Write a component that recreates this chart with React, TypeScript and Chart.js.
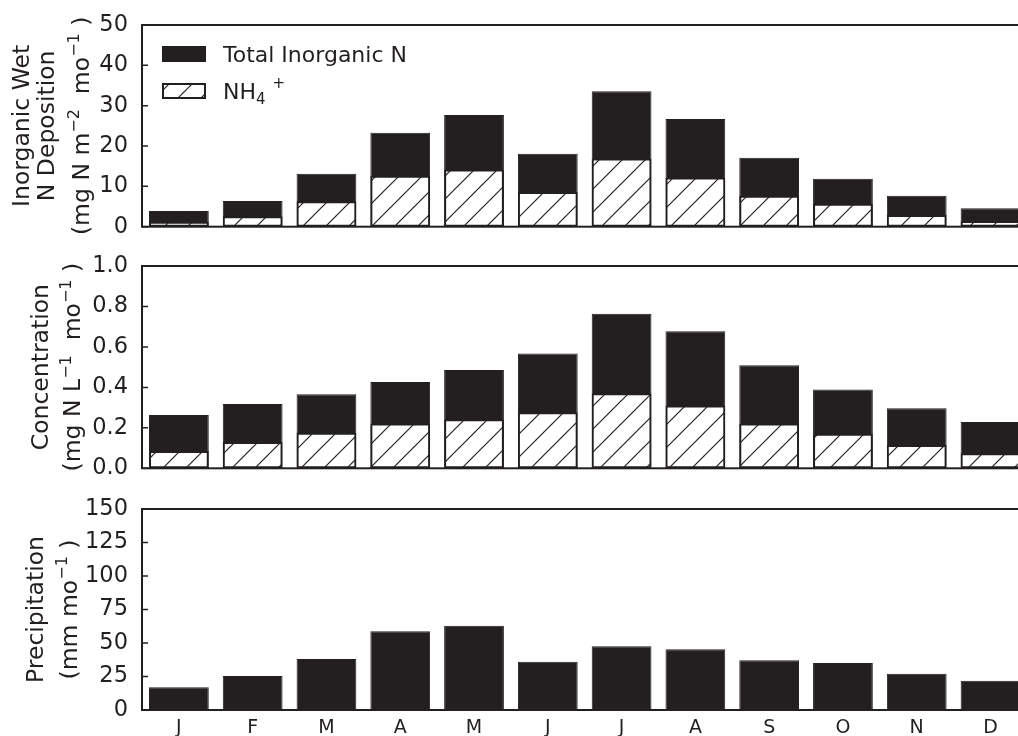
import React, { useEffect, useRef } from 'react';
import { Chart, registerables } from 'chart.js';

Chart.register(...registerables);

const FONT = "'DejaVu Sans', 'Liberation Sans', sans-serif";
const INK = '#231f20';

// ---------- data ----------
const months = ['J', 'F', 'M', 'A', 'M', 'J', 'J', 'A', 'S', 'O', 'N', 'D'];
const totalDeposition = [3.9, 6.4, 13.1, 23.3, 27.7, 18.1, 33.6, 26.7, 17.1, 11.9, 7.7, 4.6];
const nh4Deposition = [1.2, 2.6, 6.3, 12.6, 14.2, 8.6, 16.9, 12.2, 7.7, 5.7, 2.9, 1.4];
const totalConcentration = [0.263, 0.318, 0.366, 0.427, 0.486, 0.568, 0.764, 0.677, 0.51, 0.39, 0.297, 0.229];
const nh4Concentration = [0.085, 0.13, 0.176, 0.222, 0.242, 0.277, 0.371, 0.311, 0.221, 0.171, 0.115, 0.074];
const precipitation = [16.9, 25.4, 38.0, 58.7, 62.9, 36.0, 47.5, 45.3, 37.1, 35.1, 27.1, 21.9];

const depositionTicks = [0, 10, 20, 30, 40, 50];
const concentrationTicks = [0, 0.2, 0.4, 0.6, 0.8, 1.0];
const precipitationTicks = [0, 25, 50, 75, 100, 125, 150];

const legendTotalLabel = 'Total Inorganic N';

// ---------- layout ----------
const CANVAS_W = 1040;
const PLOT_LEFT = 142;
const PLOT_RIGHT = 1027.4;
const YLABEL_SIZE = 23.5;

type Seg = { t: string; s?: 'sup' | 'sub'; dy?: number };
type LabelLine = { x: number; segs: Seg[] };

function drawRich(ctx: CanvasRenderingContext2D, segs: Seg[], x0: number, baseY: number, size: number, center: boolean) {
  const main = `${size}px ${FONT}`;
  const small = `${Math.round(size * 0.7)}px ${FONT}`;
  const widths = segs.map((s) => {
    ctx.font = s.s ? small : main;
    return ctx.measureText(s.t).width;
  });
  const total = widths.reduce((a, b) => a + b, 0);
  let x = center ? x0 - total / 2 : x0;
  segs.forEach((s, i) => {
    ctx.font = s.s ? small : main;
    let dy = s.s === 'sup' ? -size * 0.42 : s.s === 'sub' ? size * 0.2 : 0;
    if (s.dy !== undefined) dy = s.dy;
    ctx.fillText(s.t, x, baseY + dy);
    x += widths[i];
  });
}

function makeHatch(): CanvasPattern | string {
  const n = 23;
  const c = document.createElement('canvas');
  c.width = n;
  c.height = n;
  const g = c.getContext('2d');
  if (!g) return '#fff';
  g.fillStyle = '#ffffff';
  g.fillRect(0, 0, n, n);
  g.strokeStyle = INK;
  g.lineWidth = 1.2;
  for (const k of [-n, 0, n]) {
    g.beginPath();
    g.moveTo(k - 5, n + 5);
    g.lineTo(k + n + 5, -5);
    g.stroke();
  }
  const p = g.createPattern(c, 'repeat');
  return p || '#fff';
}

type PanelSpec = {
  height: number;
  padTop: number;
  padBottom: number;
  showX: boolean;
  datasets: any[];
  ticks: number[];
  decimals: number;
  label: LabelLine[];
  legend?: { hatch: CanvasPattern | string };
};

function buildConfig(spec: PanelSpec): any {
  const framePlugin = {
    id: 'frameTicks',
    afterDatasetsDraw(chart: any) {
      const { ctx, chartArea: a } = chart;
      const ys = chart.scales.y;
      ctx.save();
      ctx.strokeStyle = INK;
      ctx.lineWidth = 1.5;
      ys.ticks.forEach((t: any) => {
        const py = ys.getPixelForValue(t.value);
        ctx.beginPath();
        ctx.moveTo(a.left, py);
        ctx.lineTo(a.left + 6, py);
        ctx.moveTo(a.right, py);
        ctx.lineTo(a.right - 6, py);
        ctx.stroke();
      });
      ctx.lineWidth = 2;
      ctx.strokeRect(a.left, a.top, a.right - a.left, a.bottom - a.top);
      ctx.restore();
    },
  };

  const labelPlugin = {
    id: 'yLabel',
    afterDraw(chart: any) {
      const { ctx, chartArea: a } = chart;
      const cy = (a.top + a.bottom) / 2;
      ctx.save();
      ctx.fillStyle = INK;
      ctx.textBaseline = 'alphabetic';
      ctx.textAlign = 'left';
      spec.label.forEach((l) => {
        ctx.save();
        ctx.translate(l.x, cy);
        ctx.rotate(-Math.PI / 2);
        drawRich(ctx, l.segs, 0, 0, YLABEL_SIZE, true);
        ctx.restore();
      });
      ctx.restore();
    },
  };

  const legendPlugin = {
    id: 'customLegend',
    afterDraw(chart: any) {
      if (!spec.legend) return;
      const { ctx, chartArea: a } = chart;
      const bx = a.left + 20;
      const bw = 44;
      const bh = 16;
      const y1 = a.top + 21;
      const y2 = a.top + 58;
      ctx.save();
      ctx.fillStyle = INK;
      ctx.fillRect(bx, y1, bw, bh);
      ctx.fillStyle = spec.legend.hatch;
      ctx.fillRect(bx, y2, bw, bh);
      ctx.strokeStyle = INK;
      ctx.lineWidth = 2;
      ctx.strokeRect(bx + 1, y2 + 1, bw - 2, bh - 2);
      ctx.fillStyle = INK;
      ctx.textAlign = 'left';
      ctx.textBaseline = 'alphabetic';
      const tx = a.left + 81;
      drawRich(ctx, [{ t: legendTotalLabel }], tx, y1 + 16, 22, false);
      drawRich(
        ctx,
        [{ t: 'NH' }, { t: '4', s: 'sub', dy: 4.5 }, { t: ' ' }, { t: '+', s: 'sup', dy: -11 }],
        tx,
        y2 + 16,
        22,
        false
      );
      ctx.restore();
    },
  };

  const tickVals = spec.ticks;
  return {
    type: 'bar',
    data: { labels: months, datasets: spec.datasets },
    options: {
      animation: false,
      responsive: false,
      events: [],
      layout: { padding: { top: spec.padTop, bottom: spec.padBottom, left: 0, right: CANVAS_W - PLOT_RIGHT } },
      plugins: { legend: { display: false }, tooltip: { enabled: false } },
      scales: {
        x: {
          type: 'category',
          display: spec.showX,
          stacked: true,
          offset: true,
          grid: { display: false },
          border: { display: false },
          ticks: {
            color: INK,
            font: { family: FONT, size: 19 },
            padding: -1,
            maxRotation: 0,
            autoSkip: false,
          },
          afterFit(scale: any) {
            if (spec.showX) scale.height = 26;
            scale.paddingLeft = 0;
            scale.paddingRight = 0;
          },
        },
        y: {
          type: 'linear',
          stacked: false,
          min: tickVals[0],
          max: tickVals[tickVals.length - 1],
          grid: { display: false },
          border: { display: false },
          ticks: {
            color: INK,
            font: { family: FONT, size: 22.5 },
            padding: 6,
            callback: (v: any) => Number(v).toFixed(spec.decimals),
          },
          afterBuildTicks(scale: any) {
            scale.ticks = tickVals.map((value) => ({ value }));
          },
          afterFit(scale: any) {
            scale.width = PLOT_LEFT;
            scale.paddingTop = 0;
            scale.paddingBottom = 0;
          },
        },
      },
    },
    plugins: [framePlugin, labelPlugin, legendPlugin],
  };
}

export default function App() {
  const r1 = useRef<HTMLCanvasElement>(null);
  const r2 = useRef<HTMLCanvasElement>(null);
  const r3 = useRef<HTMLCanvasElement>(null);

  useEffect(() => {
    Chart.defaults.font.family = FONT;
    Chart.defaults.color = INK;
    const hatch = makeHatch();
    const barCommon = { categoryPercentage: 1.0, barPercentage: 0.81 };
    const hatchSet = (data: number[]) => ({
      label: 'NH4+',
      data,
      backgroundColor: hatch,
      borderColor: INK,
      borderWidth: 2,
      borderSkipped: false,
      ...barCommon,
    });
    const solidSet = (label: string, data: number[]) => ({
      label,
      data,
      backgroundColor: INK,
      borderColor: INK,
      borderWidth: 1,
      ...barCommon,
    });

    const charts: Chart[] = [];
    if (r1.current) {
      charts.push(
        new Chart(
          r1.current,
          buildConfig({
            height: 240,
            padTop: 25,
            padBottom: 13.3,
            showX: false,
            datasets: [hatchSet(nh4Deposition), solidSet(legendTotalLabel, totalDeposition)],
            ticks: depositionTicks,
            decimals: 0,
            label: [
              { x: 28.7, segs: [{ t: 'Inorganic Wet' }] },
              { x: 54.3, segs: [{ t: 'N Deposition' }] },
              {
                x: 88.5,
                segs: [{ t: '(mg N m' }, { t: '\u22122', s: 'sup' }, { t: '  mo' }, { t: '\u22121', s: 'sup' }, { t: ' )' }],
              },
            ],
            legend: { hatch },
          })
        )
      );
    }
    if (r2.current) {
      charts.push(
        new Chart(
          r2.current,
          buildConfig({
            height: 240,
            padTop: 26,
            padBottom: 11.7,
            showX: false,
            datasets: [hatchSet(nh4Concentration), solidSet(legendTotalLabel, totalConcentration)],
            ticks: concentrationTicks,
            decimals: 1,
            label: [
              { x: 48, segs: [{ t: 'Concentration' }] },
              {
                x: 80.4,
                segs: [{ t: '(mg N L' }, { t: '\u22121', s: 'sup' }, { t: '  mo' }, { t: '\u22121', s: 'sup' }, { t: ' )' }],
              },
            ],
          })
        )
      );
    }
    if (r3.current) {
      charts.push(
        new Chart(
          r3.current,
          buildConfig({
            height: 256,
            padTop: 29,
            padBottom: 0,
            showX: true,
            datasets: [
              {
                label: 'Precipitation',
                data: precipitation,
                backgroundColor: INK,
                borderColor: INK,
                borderWidth: 1,
                ...barCommon,
              },
            ],
            ticks: precipitationTicks,
            decimals: 0,
            label: [
              { x: 43, segs: [{ t: 'Precipitation' }] },
              { x: 77, segs: [{ t: '(mm mo' }, { t: '\u22121', s: 'sup' }, { t: ' )' }] },
            ],
          })
        )
      );
    }
    return () => charts.forEach((c) => c.destroy());
  }, []);

  const cv = (top: number, h: number): React.CSSProperties => ({
    position: 'absolute',
    left: 0,
    top,
    width: CANVAS_W,
    height: h,
    display: 'block',
  });

  return (
    <div
      style={{
        position: 'fixed',
        left: 0,
        top: 0,
        width: 1018,
        height: 736,
        overflow: 'hidden',
        background: '#ffffff',
      }}
    >
      <canvas ref={r1} width={CANVAS_W} height={240} style={cv(0, 240)} />
      <canvas ref={r2} width={CANVAS_W} height={240} style={cv(240, 240)} />
      <canvas ref={r3} width={CANVAS_W} height={256} style={cv(480, 256)} />
    </div>
  );
}
